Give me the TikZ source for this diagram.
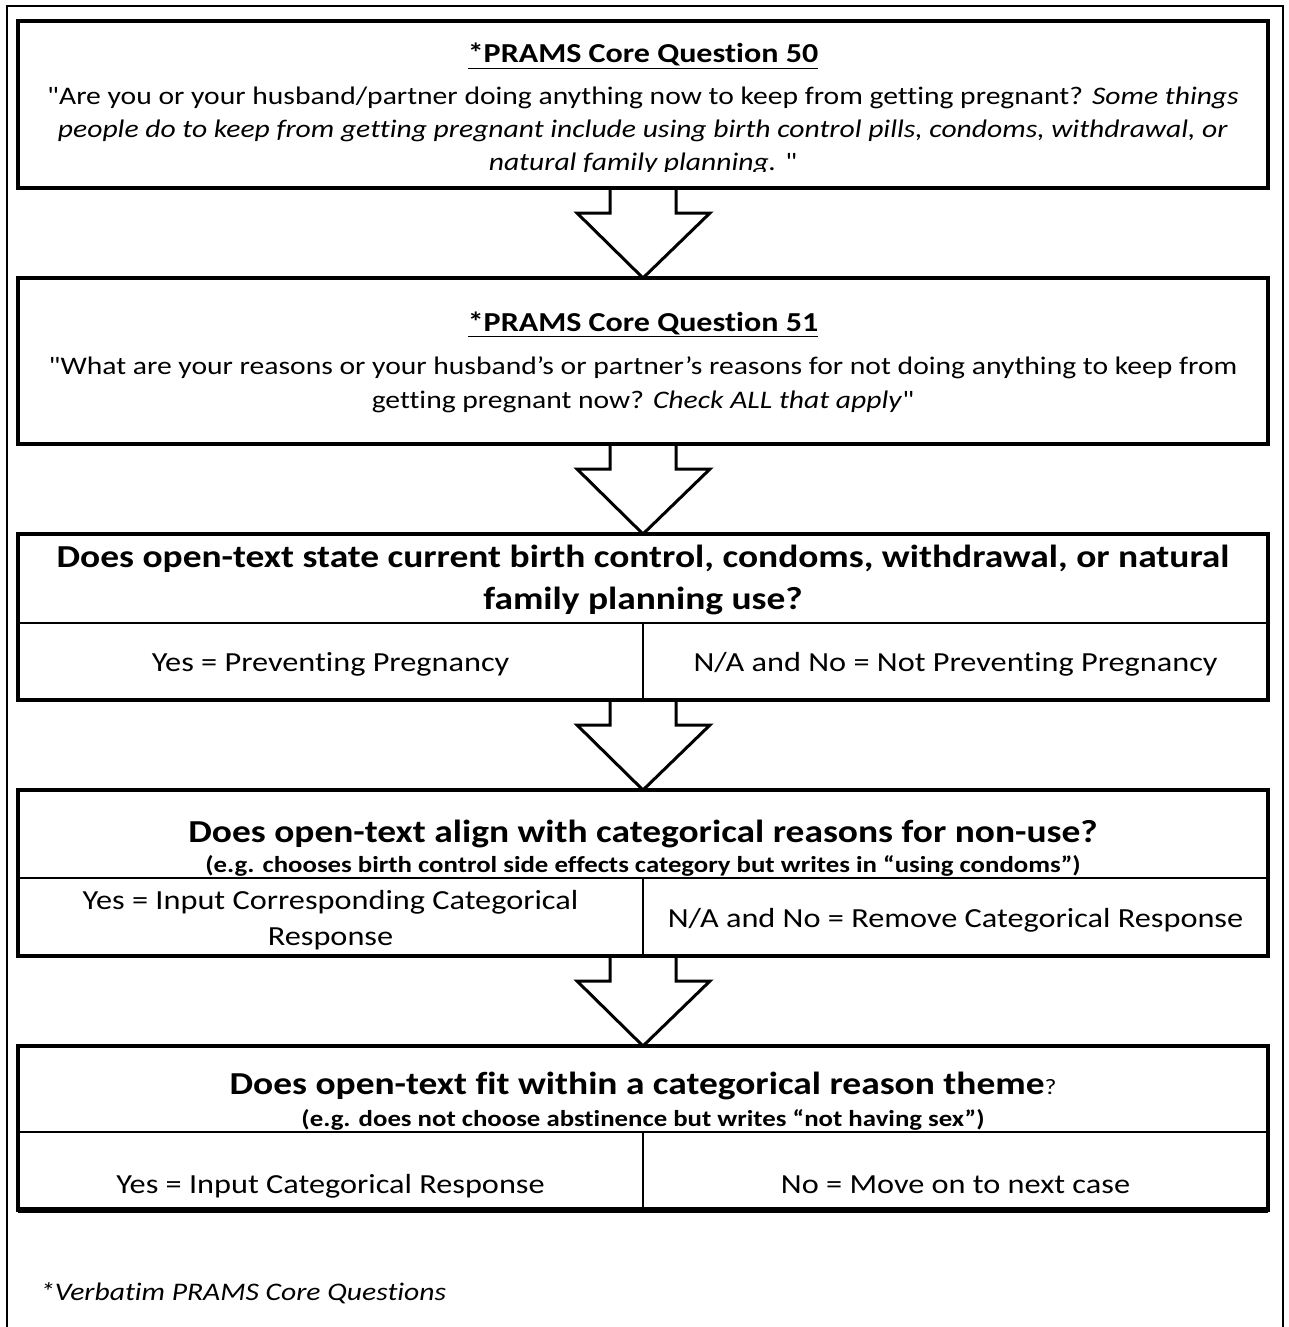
\documentclass[tikz,border=0pt]{standalone}
\usepackage{fontspec}
\setmainfont{Carlito}[Ligatures={TeXOff,NoCommon},FakeStretch=1.17]
\usetikzlibrary{calc}
\newcommand\blockarrow[2]{%
  \path[barrow] ($(#1.south)+(-33,2)$) -- ($(#1.south)+(-33,25)$) -- ($(#1.south)+(-66,25)$)
    -- (#2.north) -- ($(#1.south)+(67,25)$) -- ($(#1.south)+(33,25)$) -- ($(#1.south)+(33,2)$);}
\begin{document}
\begin{tikzpicture}[x=1pt,y=-1pt,
  box/.style={draw,line width=4pt,rectangle,minimum width=1250pt,outer sep=0pt,inner sep=0pt},
  divider/.style={line width=1.6pt},
  barrow/.style={draw,line width=3pt,fill=white,line join=miter},
  ln/.style={anchor=base,inner sep=0pt},
  body/.style={ln,font=\fontsize{25.3}{32}\selectfont},
  ttl/.style={ln,font=\fontsize{27.4}{32}\selectfont\bfseries},
  head/.style={ln,font=\fontsize{32}{40}\selectfont\bfseries},
  sub/.style={ln,font=\fontsize{22.9}{26}\selectfont\bfseries},
  cell/.style={ln,font=\fontsize{27.6}{36}\selectfont}]
\useasboundingbox (0,0) rectangle (1288,1327);
\fill[white] (0,0) rectangle (1288,1327);
\draw[line width=2pt] (7,1340) -- (7,6) -- (1283,6) -- (1283,1340);

% boxes
\node[box,minimum height=167pt] (b1) at (643,104.5) {};
\node[box,minimum height=166pt] (b2) at (643,361) {};
\node[box,minimum height=166pt] (b3) at (643,617) {};
\node[box,minimum height=166pt] (b4) at (643,873) {};
\node[box,minimum height=164pt] (b5) at (643,1128) {};
\draw[line width=6pt] (b5.south west) -- (b5.south east);

% dividers
\draw[divider] (18,623) -- (1268,623) (643,623) -- (643,700);
\draw[divider] (18,878) -- (1268,878) (643,878) -- (643,956);
\draw[divider] (18,1132) -- (1268,1132) (643,1132) -- (643,1210);

% block arrows
\blockarrow{b1}{b2}
\blockarrow{b2}{b3}
\blockarrow{b3}{b4}
\blockarrow{b4}{b5}

% box 1
\node[ttl] (t1) at (643,63) {\underline{*PRAMS Core Question 50}};
\begin{scope}
\clip (20,23) rectangle (1266,171);
\node[body] (q1a) at (643,105) {"Are you or your husband/partner doing anything now to keep from getting pregnant? \textit{Some things}};
\node[body] (q1b) at (643,137) {\textit{people do to keep from getting pregnant include using birth control pills, condoms, withdrawal, or}};
\node[body] (q1c) at (643,170) {\textit{natural family planning.} "};
\end{scope}

% box 2
\node[ttl] (t2) at (643,331) {\underline{*PRAMS Core Question 51}};
\node[body] (q2a) at (643,374) {"What are your reasons or your husband’s or partner’s reasons for not doing anything to keep from};
\node[body] (q2b) at (643,408) {getting pregnant now? \textit{Check ALL that apply}"};

% box 3
\node[head] (h3a) at (643,567) {Does open-text state current birth control, condoms, withdrawal, or natural};
\node[head] (h3b) at (643,609) {family planning use?};
\node[cell] (y3) at (330.5,671) {Yes = Preventing Pregnancy};
\node[cell] (n3) at (955.5,671) {N/A and No = Not Preventing Pregnancy};

% box 4
\node[head] (h4) at (643,842) {Does open-text align with categorical reasons for non-use?};
\node[sub] (s4) at (643,872) {(e.g. chooses birth control side effects category but writes in “using condoms”)};
\node[cell] (y4a) at (330.5,909) {Yes = Input Corresponding Categorical};
\node[cell] (y4b) at (330.5,945) {Response};
\node[cell] (n4) at (955.5,927) {N/A and No = Remove Categorical Response};

% box 5
\node[head] (h5) at (643,1094) {Does open-text fit within a categorical reason theme{\fontsize{22}{26}\selectfont\mdseries ?}};
\node[sub] (s5) at (643,1126) {(e.g. does not choose abstinence but writes “not having sex”)};
\node[cell] (y5) at (330.5,1193) {Yes = Input Categorical Response};
\node[cell] (n5) at (955.5,1193) {No = Move on to next case};

% footnote
\node[anchor=base west,inner sep=0pt,font=\fontsize{25.3}{32}\selectfont\itshape] (fn) at (40,1300) {*Verbatim PRAMS Core Questions};
\end{tikzpicture}
\end{document}
